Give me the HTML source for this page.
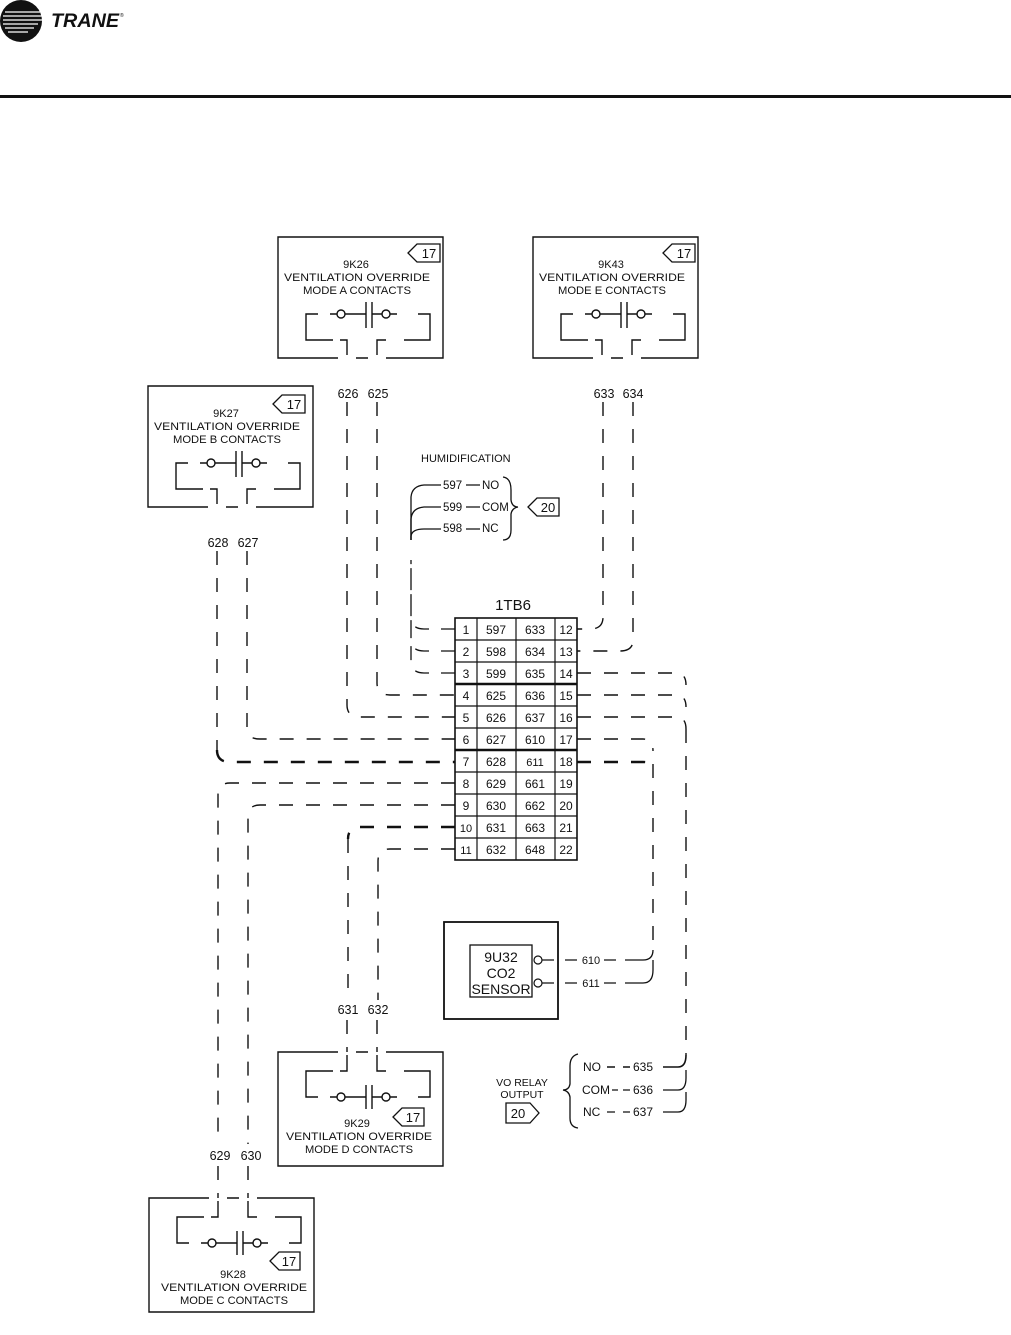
<!DOCTYPE html>
<html><head><meta charset="utf-8"><style>
html,body{margin:0;padding:0;background:#fff;}
svg{display:block;}
text{font-family:"Liberation Sans",sans-serif;fill:#111;}
</style></head><body>
<svg width="1011" height="1335" viewBox="0 0 1011 1335" xmlns="http://www.w3.org/2000/svg">
<defs>
<g id="relTop" fill="none" stroke="#111" stroke-width="1.4">
  <path d="M60,121 H0 V0 H165 V121 H108 M90,121 H78"/>
  <path d="M40,77 H28 V103 H55"/>
  <path d="M62,103 H69 V118"/>
  <path d="M99,118 V103 H108"/>
  <path d="M126,103 H152 V77 H140"/>
  <path d="M52,77 H59 M67,77 H88 M88,65 V91 M94,65 V91 M94,77 H104 M112,77 H119"/>
  <circle cx="63" cy="77" r="4"/><circle cx="108" cy="77" r="4"/>
</g>
<g id="relBot" fill="none" stroke="#111" stroke-width="1.4">
  <path d="M60,0 H0 V114 H165 V0 H108 M90,0 H78"/>
  <path d="M40,45 H28 V19 H55"/>
  <path d="M62,19 H69 V3"/>
  <path d="M99,3 V19 H108"/>
  <path d="M126,19 H152 V45 H140"/>
  <path d="M52,45 H59 M67,45 H88 M88,33 V57 M94,33 V57 M94,45 H104 M112,45 H119"/>
  <circle cx="63" cy="45" r="4"/><circle cx="108" cy="45" r="4"/>
</g>
</defs>

<!-- header -->
<circle cx="21" cy="21" r="21" fill="#111"/>
<g stroke="#fff" stroke-width="1.3">
<line x1="5" y1="12" x2="40" y2="12"/><line x1="3" y1="16" x2="42" y2="16"/><line x1="3" y1="20" x2="42" y2="20"/><line x1="3" y1="24" x2="38" y2="24"/><line x1="5" y1="28" x2="34" y2="28"/><line x1="8" y1="32" x2="28" y2="32"/>
</g>
<text x="51" y="27" font-size="19" font-weight="bold" font-style="italic" textLength="68" lengthAdjust="spacingAndGlyphs">TRANE</text>
<text x="120" y="17" font-size="5">®</text>
<rect x="0" y="95" width="1011" height="3" fill="#111"/>

<!-- relay boxes -->
<use href="#relTop" x="278" y="237"/>
<use href="#relTop" x="533" y="237"/>
<use href="#relTop" x="148" y="386"/>
<use href="#relBot" x="278" y="1052"/>
<use href="#relBot" x="149" y="1198"/>

<g font-size="11" text-anchor="middle">
<text x="356" y="268">9K26</text><text x="357" y="281" textLength="146" lengthAdjust="spacingAndGlyphs">VENTILATION OVERRIDE</text><text x="357" y="294" textLength="108" lengthAdjust="spacingAndGlyphs">MODE A CONTACTS</text>
<text x="611" y="268">9K43</text><text x="612" y="281" textLength="146" lengthAdjust="spacingAndGlyphs">VENTILATION OVERRIDE</text><text x="612" y="294" textLength="108" lengthAdjust="spacingAndGlyphs">MODE E CONTACTS</text>
<text x="226" y="417">9K27</text><text x="227" y="430" textLength="146" lengthAdjust="spacingAndGlyphs">VENTILATION OVERRIDE</text><text x="227" y="443" textLength="108" lengthAdjust="spacingAndGlyphs">MODE B CONTACTS</text>
<text x="357" y="1127">9K29</text><text x="359" y="1140" textLength="146" lengthAdjust="spacingAndGlyphs">VENTILATION OVERRIDE</text><text x="359" y="1153" textLength="108" lengthAdjust="spacingAndGlyphs">MODE D CONTACTS</text>
<text x="233" y="1278">9K28</text><text x="234" y="1291" textLength="146" lengthAdjust="spacingAndGlyphs">VENTILATION OVERRIDE</text><text x="234" y="1304" textLength="108" lengthAdjust="spacingAndGlyphs">MODE C CONTACTS</text>
</g>

<!-- tags -->
<g fill="none" stroke="#111" stroke-width="1.3">
<polygon points="408,253 417,244 440,244 440,262 417,262"/>
<polygon points="663,253 672,244 695,244 695,262 672,262"/>
<polygon points="273,404 282,395 305,395 305,413 282,413"/>
<polygon points="393,1117 402,1108 424,1108 424,1126 402,1126"/>
<polygon points="270,1261 279,1252 300,1252 300,1270 279,1270"/>
<polygon points="528,507 537,498 559,498 559,516 537,516"/>
<polygon points="506,1103 530,1103 539,1113 530,1123 506,1123"/>
</g>
<g font-size="13" text-anchor="middle">
<text x="429" y="258">17</text><text x="684" y="258">17</text><text x="294" y="409">17</text>
<text x="413" y="1122">17</text><text x="289" y="1266">17</text>
<text x="548" y="512">20</text><text x="518" y="1118">20</text>
</g>

<!-- wire labels -->
<g font-size="12.5" text-anchor="middle">
<text x="348" y="398">626</text><text x="378" y="398">625</text>
<text x="604" y="398">633</text><text x="633" y="398">634</text>
<text x="218" y="547">628</text><text x="248" y="547">627</text>
<text x="348" y="1014">631</text><text x="378" y="1014">632</text>
<text x="220" y="1160">629</text><text x="251" y="1160">630</text>
</g>

<!-- dashed wires -->
<g fill="none" stroke="#111" stroke-width="1.4" stroke-dasharray="14 13">
<path d="M347,402 V705 Q347,717 360,717 H455"/>
<path d="M377,402 V683 Q377,695 390,695 H455"/>
<path d="M247,551 V728 Q247,739 260,739 H455"/>
<path d="M217,551 V750"/>
<path d="M603,402 V617 Q603,629 590,629 H577"/>
<path d="M633,402 V640 Q633,651 620,651 H577"/>
<path d="M577,673 H676 Q686,673 686,685"/>
<path d="M577,695 H676 Q686,695 686,707"/>
<path d="M577,717 H676 Q686,717 686,729"/>
<path d="M686,729 V1055"/>
<path d="M577,739 H643 Q653,739 653,751"/>
<path d="M653,764 V950"/>
<path d="M455,783 H230 Q218,783 218,795 V1144"/>
<path d="M455,805 H260 Q248,805 248,817 V1144"/>
<path d="M348,839 V1000"/>
<path d="M455,849 H390 Q378,849 378,861 V1000"/>
<path d="M347,1020 V1052 M377,1020 V1052 M218,1166 V1198 M248,1166 V1198"/>
</g>
<g fill="none" stroke="#111" stroke-width="2.4" stroke-dasharray="14 13">
<path d="M217,750 Q217,762 230,762 H455"/>
<path d="M577,762 H643 Q653,762 653,770"/>
<path d="M455,827 H360 Q348,827 348,839"/>
</g>

<!-- humidification -->
<text x="421" y="462" font-size="11">HUMIDIFICATION</text>
<g font-size="11.5">
<text x="443" y="489">597</text><text x="482" y="489">NO</text>
<text x="443" y="511">599</text><text x="482" y="511">COM</text>
<text x="443" y="532">598</text><text x="482" y="532">NC</text>
</g>
<g fill="none" stroke="#111" stroke-width="1.3">
<path d="M466,485 H480 M466,507 H480 M466,529 H480"/>
<path d="M441,485 H424 Q412,486 411,497 V540"/>
<path d="M441,507 H424 Q412,508 411,519 V540"/>
<path d="M441,529 H424 Q412,529 411,536 V540"/>
<path d="M503,477 Q511,478 511,490 V500 Q512,507 518,507 Q512,508 511,514 V530 Q511,540 503,540"/>
<path d="M455,629 H424 Q411,629 411,617 V560 M455,651 H424 Q411,651 411,639 V560 M455,673 H424 Q411,673 411,661 V560" stroke-dasharray="14 12"/>
</g>

<!-- terminal block -->
<text x="513" y="610" font-size="15" text-anchor="middle">1TB6</text>
<g fill="none" stroke="#111" stroke-width="1.2">
<rect x="455" y="618" width="122" height="242" stroke-width="1.6"/>
<path d="M477,618 V860 M516,618 V860 M555,618 V860"/>
<path d="M455,640 H577 M455,662 H577 M455,706 H577 M455,728 H577 M455,772 H577 M455,794 H577 M455,816 H577 M455,838 H577"/>
<path d="M455,684 H577 M455,750 H577" stroke-width="2.4"/>
</g>
<g font-size="12" text-anchor="middle">
<text x="466" y="634">1</text><text x="496" y="634">597</text><text x="535" y="634">633</text><text x="566" y="634">12</text>
<text x="466" y="656">2</text><text x="496" y="656">598</text><text x="535" y="656">634</text><text x="566" y="656">13</text>
<text x="466" y="678">3</text><text x="496" y="678">599</text><text x="535" y="678">635</text><text x="566" y="678">14</text>
<text x="466" y="700">4</text><text x="496" y="700">625</text><text x="535" y="700">636</text><text x="566" y="700">15</text>
<text x="466" y="722">5</text><text x="496" y="722">626</text><text x="535" y="722">637</text><text x="566" y="722">16</text>
<text x="466" y="744">6</text><text x="496" y="744">627</text><text x="535" y="744">610</text><text x="566" y="744">17</text>
<text x="466" y="766">7</text><text x="496" y="766">628</text><text x="535" y="766" font-size="11">611</text><text x="566" y="766">18</text>
<text x="466" y="788">8</text><text x="496" y="788">629</text><text x="535" y="788">661</text><text x="566" y="788">19</text>
<text x="466" y="810">9</text><text x="496" y="810">630</text><text x="535" y="810">662</text><text x="566" y="810">20</text>
<text x="466" y="832" font-size="11">10</text><text x="496" y="832">631</text><text x="535" y="832">663</text><text x="566" y="832">21</text>
<text x="466" y="854" font-size="11">11</text><text x="496" y="854">632</text><text x="535" y="854">648</text><text x="566" y="854">22</text>
</g>

<!-- CO2 sensor -->
<g fill="none" stroke="#111">
<rect x="444" y="922" width="114" height="97" stroke-width="1.8"/>
<rect x="470" y="945" width="62" height="52" stroke-width="1.3"/>
<circle cx="538" cy="960" r="4" stroke-width="1.2"/><circle cx="538" cy="983" r="4" stroke-width="1.2"/>
<path d="M542,960 H554 M565,960 H577 M604,960 H616 M625,960 H643 Q653,960 653,950" stroke-width="1.3"/>
<path d="M542,983 H554 M565,983 H577 M604,983 H616 M625,983 H643 Q653,983 653,970 V960" stroke-width="1.3"/>
</g>
<g font-size="14" text-anchor="middle">
<text x="501" y="962">9U32</text><text x="501" y="978">CO2</text><text x="501" y="994">SENSOR</text>
</g>
<g font-size="11" text-anchor="middle"><text x="591" y="964">610</text><text x="591" y="987">611</text></g>

<!-- VO relay -->
<g font-size="10.5" text-anchor="middle"><text x="522" y="1086">VO RELAY</text><text x="522" y="1098">OUTPUT</text></g>
<g fill="none" stroke="#111" stroke-width="1.3">
<path d="M578,1054 Q570,1056 570,1066 V1084 Q569,1090 563,1090 Q569,1091 570,1097 V1118 Q570,1127 578,1128"/>
<path d="M607,1067 H615 M623,1067 H630 M663,1067 H678 Q686,1067 686,1055" stroke-width="1.6"/>
<path d="M612,1090 H618 M623,1090 H630 M663,1090 H678 Q686,1090 686,1078 V1070"/>
<path d="M607,1112 H615 M623,1112 H630 M663,1112 H678 Q686,1112 686,1100 V1092"/>
</g>
<g font-size="12">
<text x="583" y="1071">NO</text><text x="582" y="1094" textLength="28" lengthAdjust="spacingAndGlyphs">COM</text><text x="583" y="1116">NC</text>
<text x="633" y="1071">635</text><text x="633" y="1094">636</text><text x="633" y="1116">637</text>
</g>
</svg>
</body></html>
